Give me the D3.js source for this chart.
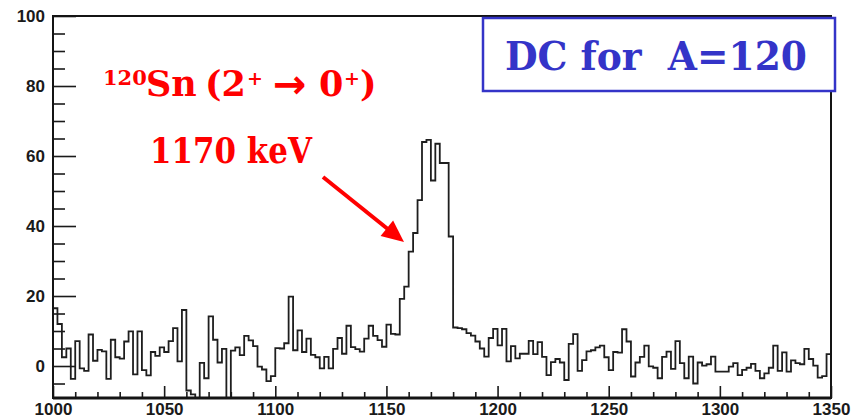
<!DOCTYPE html>
<html>
<head>
<meta charset="utf-8">
<script src="https://cdn.jsdelivr.net/npm/d3@7"></script>
<style>
  html, body { margin: 0; padding: 0; background: #fff; }
  svg { display: block; }
  .axis text { font-family: "Liberation Sans", Arial, sans-serif; font-weight: bold; font-size: 17px; fill: #1a1a1a; }
  .axis line { stroke: #1a1a1a; stroke-width: 1.6px; }
  .axis path { display: none; }
  .ann { font-family: "DejaVu Serif", serif; font-weight: bold; white-space: pre; }
</style>
</head>
<body>
<svg id="chart" width="852" height="420"></svg>
<script>
// Gamma-ray energy spectrum, 2 keV bins from 1000 to 1350 keV
const energyMin = 1000;
const energyMax = 1350;
const binWidth = 2;
const counts = [
  16.5, 12, 2.5, 5, -3.7, 7.1, -0.7, -1.4, 9, 1.5,
  4.6, 4.2, -3.7, 7.5, 2.5, 2.1, 7, 9.9, -2.4, 9.9,
  -1.2, -2.7, 4, 2.9, 5.3, 4, 7.1, 10.8, 1.3, 16,
  -7, -8.1, -12, 0.9, -3.5, 14.2, 7.5, 1, 4.9, -12,
  4.4, 5.3, 3.1, 8.6, 7.3, 5.7, -0.2, -1, -4.3, -2.9,
  5.1, 5, 6.5, 19.8, 4.5, 10.2, 4, 7.8, 3.2, 2.5,
  -0.7, 2.6, -0.7, 4.9, 8, 3.5, 11.5, 5.4, 4.8, 4.1,
  7.8, 11.5, 8.6, 7.4, 5.5, 11.8, 9.2, 9, 19.2, 22.7,
  32.7, 38, 47.4, 64, 64.6, 53, 63.5, 58, 58, 37,
  11, 10.8, 10.5, 9.4, 8.7, 7, 5, 2.7, 8, 10.6,
  5.9, 10.6, 1.3, 5.7, 2.2, 3.5, 3.5, 7.2, 3.4, 6.8,
  2.6, -2.6, 1.1, 2, 1, -4, 6.3, 9.1, -1.4, 1.7,
  4.2, 4.5, 5.3, 5.8, 2.5, -1.2, 4, 3.8, 10.5, 7,
  -3, 1, 2.6, 5.8, -0.1, -0.5, -3.5, 2.6, 4.1, -0.8,
  7.1, 0.8, -3.5, 2.7, -5, 1, 0.1, 0.5, 2.7, -1.6,
  -1.6, -1.6, -0.2, 0.8, -2.6, -1.1, -0.5, 0.6, -1.4, -3.5,
  -2.1, -0.5, 5.8, -1.4, 3.9, -1.6, 1.6, 0.8, 0.5, 4.9,
  2, 0.1, -3.3, -2.9, 3.4
];
const xTickLabels = [1000, 1050, 1100, 1150, 1200, 1250, 1300, 1350];
const yTickLabels = [0, 20, 40, 60, 80, 100];
const yMin = -9.14;
const yMax = 100;
const peakEnergy = 1170;

const svg = d3.select("#chart");
const frame = { left: 53, right: 831, top: 16, bottom: 398 };

const x = d3.scaleLinear().domain([energyMin, energyMax]).range([frame.left, frame.right]);
const y = d3.scaleLinear().domain([yMin, yMax]).range([frame.bottom, frame.top]);

svg.append("rect").attr("width", 852).attr("height", 420).attr("fill", "#fff");

// clip region = plotting frame
svg.append("clipPath").attr("id", "frameClip")
  .append("rect")
  .attr("x", frame.left).attr("y", frame.top)
  .attr("width", frame.right - frame.left).attr("height", frame.bottom - frame.top);

// histogram outline (steps, starting and ending on the frame floor)
const pts = [[energyMin, yMin]];
counts.forEach((c, i) => {
  const lo = energyMin + i * binWidth;
  pts.push([lo, c], [lo + binWidth, c]);
});
pts.push([energyMax, yMin]);

const line = d3.line().x(d => x(d[0])).y(d => y(d[1]));
svg.append("path")
  .attr("clip-path", "url(#frameClip)")
  .attr("d", line(pts))
  .attr("fill", "none")
  .attr("stroke", "#1e1e1e")
  .attr("stroke-width", 1.8)
  .attr("stroke-linejoin", "miter");

// x axis: major ticks every 50 keV, minor every 10 keV, pointing into the frame
const xMinor = d3.range(energyMin + 10, energyMax, 10).filter(v => !xTickLabels.includes(v));
svg.append("g").attr("class", "axis").attr("transform", `translate(0,${frame.bottom})`)
  .call(d3.axisBottom(x).tickValues(xTickLabels).tickSize(-12).tickPadding(5).tickFormat(d3.format("d")));
svg.append("g").attr("class", "axis").attr("transform", `translate(0,${frame.bottom})`)
  .call(d3.axisBottom(x).tickValues(xMinor).tickSize(-6).tickFormat(""));

// y axis: major ticks every 20, minor every 5
const yMinor = d3.range(-5, yMax, 5).filter(v => !yTickLabels.includes(v));
svg.append("g").attr("class", "axis").attr("transform", `translate(${frame.left},0)`)
  .call(d3.axisLeft(y).tickValues(yTickLabels).tickSize(-23).tickPadding(8).tickFormat(d3.format("d")));
svg.append("g").attr("class", "axis").attr("transform", `translate(${frame.left},0)`)
  .call(d3.axisLeft(y).tickValues(yMinor).tickSize(-12).tickFormat(""));

// frame
svg.append("rect")
  .attr("x", frame.left).attr("y", frame.top)
  .attr("width", frame.right - frame.left).attr("height", frame.bottom - frame.top)
  .attr("fill", "none").attr("stroke", "#141414").attr("stroke-width", 2);
svg.append("line")
  .attr("x1", frame.left).attr("x2", frame.right)
  .attr("y1", frame.bottom).attr("y2", frame.bottom)
  .attr("stroke", "#141414").attr("stroke-width", 3);

// title box
const blue = "#3434c8";
svg.append("rect")
  .attr("x", 483).attr("y", 18).attr("width", 352).attr("height", 73)
  .attr("fill", "#fff").attr("stroke", blue).attr("stroke-width", 2.5);
svg.append("text").attr("class", "ann")
  .attr("x", 505).attr("y", 70)
  .attr("font-size", 39).attr("fill", blue)
  .attr("textLength", 302).attr("lengthAdjust", "spacingAndGlyphs")
  .text("DC for  A=120");

// transition label
const red = "#ff0000";
const tr = svg.append("text").attr("class", "ann").attr("fill", red);
[
  { t: "120", x: 103, y: 85, s: 21 },
  { t: "Sn", x: 146, y: 96, s: 35 },
  { t: "(2", x: 205, y: 96, s: 35 },
  { t: "+", x: 247, y: 85, s: 19 },
  { t: "\u2192", x: 273, y: 98, s: 40, f: "DejaVu Sans" },
  { t: "0", x: 319, y: 96, s: 35 },
  { t: "+", x: 344, y: 85, s: 19 },
  { t: ")", x: 360, y: 96, s: 35 }
].forEach(p => {
  const ts = tr.append("tspan").attr("x", p.x).attr("y", p.y).attr("font-size", p.s).text(p.t);
  if (p.f) ts.attr("font-family", p.f);
});

svg.append("text").attr("class", "ann")
  .attr("x", 150).attr("y", 163)
  .attr("font-size", 35).attr("fill", red)
  .attr("textLength", 162).attr("lengthAdjust", "spacingAndGlyphs")
  .text(`${peakEnergy} keV`);

// arrow pointing at the rising edge of the peak
const a0 = [323, 177], a1 = [404, 242];
const dx = a1[0] - a0[0], dy = a1[1] - a0[1], len = Math.hypot(dx, dy);
const ux = dx / len, uy = dy / len;
const headL = 22, headW = 10;
const bx = a1[0] - ux * headL, by = a1[1] - uy * headL;
svg.append("line")
  .attr("x1", a0[0]).attr("y1", a0[1]).attr("x2", bx + ux * 2).attr("y2", by + uy * 2)
  .attr("stroke", red).attr("stroke-width", 4);
svg.append("path")
  .attr("d", `M${a1[0]},${a1[1]}L${bx - uy * headW},${by + ux * headW}L${bx + uy * headW},${by - ux * headW}Z`)
  .attr("fill", red);
</script>
</body>
</html>
